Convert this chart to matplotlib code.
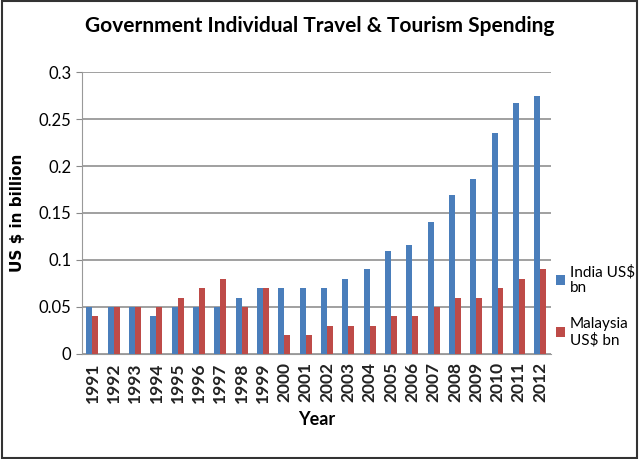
import matplotlib
matplotlib.use("Agg")
import matplotlib.pyplot as plt
import numpy as np
from matplotlib.patches import Rectangle

years = [str(y) for y in range(1991, 2013)]
india = [0.05, 0.05, 0.05, 0.04, 0.05, 0.05, 0.05, 0.06, 0.07, 0.07, 0.07,
         0.07, 0.08, 0.09, 0.109, 0.116, 0.14, 0.169, 0.186, 0.235, 0.267, 0.274]
malaysia = [0.04, 0.05, 0.05, 0.05, 0.06, 0.07, 0.08, 0.05, 0.07, 0.02, 0.02,
            0.03, 0.03, 0.03, 0.04, 0.04, 0.05, 0.06, 0.06, 0.07, 0.08, 0.09]
yticks = [0, 0.05, 0.1, 0.15, 0.2, 0.25, 0.3]
ytick_labels = ["0", "0.05", "0.1", "0.15", "0.2", "0.25", "0.3"]

plt.rcParams['font.family'] = ['Lato', 'DejaVu Sans']

fig = plt.figure(figsize=(6.39, 4.59), dpi=100)
ax = fig.add_axes([0.128, 0.229, 0.734, 0.614])

x = np.arange(len(years))
w = 0.28
ax.bar(x - w / 2, india, w, color='#4a7ebb', label='India US$\nbn', zorder=3)
ax.bar(x + w / 2, malaysia, w, color='#be4b48', label='Malaysia\nUS$ bn', zorder=3)

ax.set_xlim(-0.5, len(years) - 0.5)
ax.set_ylim(0, 0.3)
ax.set_yticks(yticks)
ax.set_yticklabels(ytick_labels, fontsize=12)
ax.set_xticks(x)
ax.set_xticklabels(years, rotation=90, fontsize=12.5, fontweight='bold', color='#222222')
ax.tick_params(axis='x', length=0, pad=6)
ax.tick_params(axis='y', length=4, color='#888888')
ax.grid(axis='y', color='#999999', linewidth=1.3, zorder=0)
for s in ['top', 'right']:
    ax.spines[s].set_visible(False)
ax.spines['left'].set_color('#999999')
ax.spines['bottom'].set_color('#999999')

ax.set_xlabel('Year', fontsize=13, fontweight='bold', labelpad=6)
ax.set_ylabel('US $ in billion', fontsize=11, fontweight='bold', family='DejaVu Sans', labelpad=10)
fig.suptitle('Government Individual Travel & Tourism Spending', fontsize=15,
             fontweight='bold', y=0.965, x=0.5)

ax.legend(loc='center left', bbox_to_anchor=(0.995, 0.17), frameon=False,
          fontsize=11, handlelength=0.6, handleheight=0.6, handletextpad=0.3,
          labelspacing=1.4, borderaxespad=0.1)

fig.patches.append(Rectangle((0.003, 0.003), 0.994, 0.994, transform=fig.transFigure,
                             fill=False, edgecolor='#333333', linewidth=1.5))

fig.savefig('out.png', dpi=100)
